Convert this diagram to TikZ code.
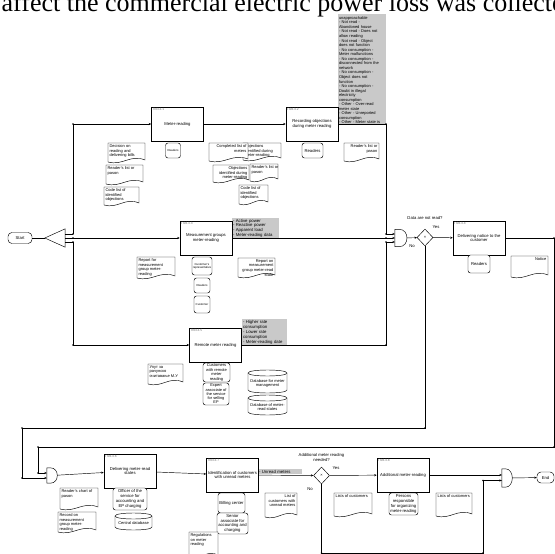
\documentclass[tikz,border=0pt]{standalone}
\usepackage{fontspec}
\setmainfont{Liberation Serif}
\setsansfont{Liberation Sans}
\usetikzlibrary{arrows.meta,calc,positioning,shapes.geometric}
\definecolor{notegray}{HTML}{C9C9C9}
\definecolor{codegray}{HTML}{6E6E6E}

\newcommand{\fnt}{\fontsize{4.2}{4.8}\selectfont\sffamily}
\newcommand{\fdoc}{\fontsize{4.0}{4.6}\selectfont\sffamily}
\newcommand{\fsm}{\fontsize{2.9}{3.4}\selectfont\sffamily}

% document sheet with a wavy lower edge: name, x1, y1, x2, y2, text
\newcommand{\docL}[6]{%
  \filldraw[docline] (#2,#3) -- (#4,#3) -- (#4,#5-3)
    .. controls ({#2+0.6*(#4-#2)},#5-9) and ({#2+0.4*(#4-#2)},#5+3) .. (#2,#5-1) -- cycle;
  \node[doctext, anchor=north west, align=left] (#1) at (#2+1,#3+1) {#6};}
\newcommand{\docR}[6]{%
  \filldraw[docline] (#2,#3) -- (#4,#3) -- (#4,#5-3)
    .. controls ({#2+0.6*(#4-#2)},#5-9) and ({#2+0.4*(#4-#2)},#5+3) .. (#2,#5-1) -- cycle;
  \node[doctext, anchor=north east, align=right] (#1) at (#4-1,#3+1) {#6};}
% data store
\newcommand{\dbase}[6]{%
  \filldraw[docline] (#2,#3+3) -- (#2,#5-3) .. controls (#2,#5+1) and (#4,#5+1) .. (#4,#5-3)
    -- (#4,#3+3) .. controls (#4,#3-1) and (#2,#3-1) .. (#2,#3+3) -- cycle;
  \draw[docline] (#2,#3+3) .. controls (#2,#3+7) and (#4,#3+7) .. (#4,#3+3);
  \node[doctext, align=center] (#1) at ({(#2+#4)/2},{(#3+#5)/2+2}) {#6};}
% AND connector
\newcommand{\gateshape}[1]{%
  \draw[wire, fill=white] (#1.south west) -- (#1.north west)
    -- ($(#1.north west)!0.35!(#1.north east)$)
    .. controls ([xshift=2.4pt]#1.north east) and ([xshift=2.4pt]#1.south east)
    .. ($(#1.south west)!0.35!(#1.south east)$) -- cycle;}

\begin{document}
\begin{tikzpicture}[x=1pt, y=-1pt,
    proc/.style={draw, line width=0.7pt, fill=white, minimum width=52pt,
                 minimum height=34pt, inner sep=1pt, align=center, font=\fnt},
    code/.style={anchor=north west, inner sep=1.6pt,
                 font=\fontsize{3.2}{3.6}\selectfont\sffamily, text=codegray},
    note/.style={fill=notegray, inner sep=0.8pt, align=left, anchor=south west},
    res/.style={draw, line width=0.45pt, rounded corners=2.5pt, fill=white,
                inner sep=0.3pt, align=center, font=\fnt},
    docline/.style={draw, line width=0.45pt, fill=white},
    doctext/.style={inner sep=0.4pt, font=\fdoc},
    term/.style={draw, line width=0.45pt, rounded corners=4pt, fill=white,
                 minimum height=11pt, inner sep=0.5pt, font=\fnt},
    gate/.style={minimum width=11pt, minimum height=16pt, inner sep=0pt},
    decide/.style={diamond, draw, line width=0.45pt, fill=white, minimum width=16pt,
                   minimum height=17pt, inner sep=0pt, font=\fontsize{4}{4}\selectfont\sffamily},
    lbl/.style={font=\fnt, inner sep=0.5pt, align=center},
    flow/.style={-{Stealth[length=2.4pt,width=2.2pt]}, line width=0.45pt},
    wire/.style={line width=0.45pt}
  ]
  \useasboundingbox (0,0) rectangle (555,554);
  \clip (0,0) rectangle (555,554);

  % attribute notes
  \fill[notegray] (338,14) rectangle (386,125);
  \node[note, text width=46pt, font=\fontsize{4.0}{4.55}\selectfont\sffamily] (n32) at (338,125)
    {unapproachable\\- Not read -\\Abandoned house\\- Not read - Does not\\allow reading\\
     - Not read - Object\\does not function\\- No consumption -\\Meter malfunctions\\
     - No consumption -\\disconnected from the\\network\\- No consumption -\\
     Object does not\\function\\- No consumption -\\Doubt in illegal\\electricity\\
     consumption\\- Other - Over-read\\meter state\\- Other - Unreported\\
     consumption\\- Other - Meter state is};
  \node[note, text width=45pt, font=\fontsize{4.3}{4.7}\selectfont\sffamily] (n33) at (232,238)
    {- Active power\\- Reactive power\\- Apparent load\\- Meter-reading data};
  \node[note, text width=43pt, font=\fontsize{4.3}{5}\selectfont\sffamily] (n35) at (242,345)
    {- Higher rate\\consumption\\- Lower rate\\consumption\\- Meter-reading date};
  \node[note, text width=42pt, font=\fontsize{4.3}{4.7}\selectfont\sffamily] (n37) at (258,474.3)
    {- Unread meters};

  % line of the page text above the figure
  \node[anchor=base west, inner sep=0pt, font=\fontsize{26}{28}\selectfont\rmfamily]
    (ttl) at (1.5,11.5) {affect the commercial electric power loss was collected};

  % functions
  \node[proc] (b31) at (177.5,124) {Meter-reading};
  \node[proc] (b32) at (312,124) {Recording objections\\during meter reading};
  \node[proc] (b33) at (206,238) {Measurement groups\\meter-reading};
  \node[proc] (b34) at (479,238) {Delivering notice to the\\customer};
  \node[proc] (b35) at (215.5,345) {Remote meter reading};
  \node[proc] (b36) at (130,471) {Delivering meter-read\\states};
  \node[proc] (b37) at (232.5,475) {Identification of customers\\with unread meters};
  \node[proc] (b38) at (403,475) {Additional meter-reading};
  \node[code] (c31) at (b31.north west) {П03.3.1};
  \node[code] (c32) at (b32.north west) {П03.3.2};
  \node[code] (c33) at (b33.north west) {П03.3.3};
  \node[code] (c34) at (b34.north west) {П03.3.4};
  \node[code] (c35) at (b35.north west) {П03.3.5};
  \node[code] (c36) at (b36.north west) {П03.3.6};
  \node[code] (c37) at (b37.north west) {П03.3.7};
  \node[code] (c38) at (b38.north west) {П03.3.8};

  % events, rules, connectors
  \node[term, minimum width=24pt] (start) at (20,238) {Start};
  \node[term, minimum width=17pt] (end) at (545.5,477.5) {End};
  \node[gate, minimum width=20pt, minimum height=18pt] (spl) at (55,238) {};
  \draw[wire, fill=white] (spl.west) -- (spl.north east) -- (spl.south east) -- cycle;
  \node[gate, minimum width=12pt, minimum height=17pt] (g1) at (401,238) {};
  \node[gate, minimum width=10pt, minimum height=15pt] (g2) at (52,475.5) {};
  \node[gate, minimum width=10pt, minimum height=18pt] (g3) at (507,478) {};
  \gateshape{g1}
  \gateshape{g2}
  \gateshape{g3}
  \node[decide] (d1) at (425,237.5) {×};
  \node[decide] (d2) at (321.5,475.5) {×};
  \node[lbl, above=9pt of d1] (q1) {Data are not read?};
  \node[lbl] (y1) at (436,227) {Yes};
  \node[lbl] (no1) at (412,246.5) {No};
  \node[lbl, above=5pt of d2] (q2) {Additional meter reading\\needed?};
  \node[lbl] (y2) at (336,468) {Yes};
  \node[lbl] (no2) at (310,489) {No};

  % resources of the functions
  \node[res, minimum width=15pt, minimum height=15pt, font=\fsm] (r31) at (173,150.5) {Readers};
  \docL{dDec}{108}{143}{145}{163}{Decision on\\reading and\\delivering bills}
  \docL{dRl1}{106}{165}{143}{185}{Reader's list or\\pason}
  \docL{dCl1}{104}{187}{139}{206}{Code list of\\identified\\objections}
  \docL{dOb1}{243}{143}{281}{161}{Objections\\identified during\\meter-reading}
  \docR{dCm}{209}{143}{248}{162}{Completed list of\\meters}
  \docL{dRl2}{250}{164}{278}{182}{Reader's list or\\pason}
  \docR{dOb2}{213}{165}{249}{183}{Objections\\identified during\\meter-reading}
  \docL{dCl2}{239}{185}{268}{205}{Code list of\\identified\\objections}
  \node[res, minimum width=21pt, minimum height=15pt] (r32) at (312.5,150.5) {Readers};
  \docR{dRl3}{344}{143}{379}{162}{Reader's list or\\pason}

  \docL{dRp1}{137}{257}{175}{279}{Report for\\measurement\\group meter-\\reading}
  \node[res, minimum width=20pt, minimum height=18pt, font=\fsm] (r33a) at (202,266) {Customer's\\representative};
  \node[res, minimum width=16pt, minimum height=15pt, font=\fsm] (r33b) at (202,285.5) {Readers};
  \node[res, minimum width=16pt, minimum height=17pt, font=\fsm] (r33c) at (202,304.5) {Customer};
  \docR{dRp2}{238}{258}{275}{278}{Report on\\measurement\\group meter-read\\state}

  \node[res, minimum width=22pt, minimum height=18pt] (r34) at (479,264) {Readers};
  \docR{dNot}{511}{256}{548}{278}{Notice}

  \docL{dCyr}{148}{364}{183}{385}{Упут за\\рачунско\\очитавање М.У}
  \node[res, minimum width=27pt, minimum height=19pt, font=\fontsize{4}{4.5}\selectfont\sffamily] (r35a) at (216.5,372.5) {Customers\\with remote\\meter\\reading};
  \node[res, minimum width=26pt, minimum height=22pt, font=\fontsize{3.9}{4.3}\selectfont\sffamily] (r35b) at (216,394) {Expert\\associate of\\the service\\for selling\\EP};
  \dbase{dbM}{248}{370}{287}{393}{Database for meter\\management}
  \dbase{dbS}{248}{395}{287}{415}{Database of meter-\\read states}

  \docL{dRc1}{60}{488}{98}{510}{Reader's chart of\\pason}
  \docL{dRc2}{58}{512}{96}{533}{Record on\\measurement\\group meter-\\reading}
  \node[res, minimum width=34pt, minimum height=22pt] (r36) at (130,499) {Officer of the\\service for\\accounting and\\EP charging};
  \dbase{dbC}{115}{513}{152}{530}{Central database}

  \node[res, minimum width=27pt, minimum height=20pt] (r37a) at (231.5,503) {Billing center};
  \node[res, minimum width=31pt, minimum height=21pt] (r37b) at (232.5,523.5) {Senior\\associate for\\accounting and\\charging};
  \docL{dReg}{189}{532}{218}{558}{Regulations\\on meter\\reading}
  \docR{dLcu}{265}{493}{297}{518}{List of\\customers with\\unread meters}

  \docL{dLs1}{334}{493}{372}{517}{Lists of customers}
  \node[res, minimum width=29pt, minimum height=22pt] (r38) at (403.5,504) {Persons\\responsible\\for organizing\\meter-reading};
  \docL{dLs2}{436}{493}{472}{517}{Lists of customers}

  % junction points
  \coordinate (ja) at (73,124);
  \coordinate (jb) at (73,234);
  \coordinate (jc) at (73,238);
  \coordinate (jd) at (73,242);
  \coordinate (je) at (73,345);
  \coordinate (ka) at (386,124);
  \coordinate (kb) at (386,234);
  \coordinate (kc) at (386,238);
  \coordinate (kd) at (386,242);
  \coordinate (ke) at (386,345);
  \coordinate (la) at (554,238);
  \coordinate (lb) at (554,447);
  \coordinate (lc) at (38,447);
  \coordinate (ld) at (38,473);
  \coordinate (ma) at (425,428);
  \coordinate (mb) at (22,428);
  \coordinate (mc) at (22,478);
  \coordinate (na) at (321.5,553);
  \coordinate (nb) at (483,553);
  \coordinate (nc) at (483,480.5);

  % control flow
  \draw[wire] (start) -- (spl.west);
  \draw[wire] (spl.east |- jb) -- (jb);
  \draw[wire] (spl.east |- jd) -- (jd);
  \draw[flow] (spl.east |- jc) -- (b33);
  \draw[flow] (jb) -- (ja) -- (b31);
  \draw[flow] (jd) -- (je) -- (b35);
  \draw[flow] (b31) -- (b32);
  \draw[wire] (b32) -- (ka) -- (kb);
  \draw[flow] (kb) -- (g1.west |- kb);
  \draw[flow] (b33) -- (g1.west |- kc);
  \draw[wire] (b35) -- (ke) -- (kd);
  \draw[flow] (kd) -- (g1.west |- kd);
  \draw[flow] (g1) -- (d1);
  \draw[flow] (d1) -- (b34);
  \draw[wire] (b34) -- (la) -- (lb) -- (lc) -- (ld);
  \draw[flow] (ld) -- (g2.west |- ld);
  \draw[wire] (d1) -- (ma) -- (mb) -- (mc);
  \draw[flow] (mc) -- (g2.west |- mc);
  \draw[flow] (g2) -- (b36);
  \draw[flow] (b36) -- (b37);
  \draw[flow] (b37) -- (d2);
  \draw[flow] (d2) -- (b38);
  \draw[flow] (b38.east) -- (g3.west |- b38.east);
  \draw[wire] (d2) -- (na) -- (nb) -- (nc);
  \draw[flow] (nc) -- (g3.west |- nc);
  \draw[flow] (g3) -- (end);
  \foreach \p in {ja,jb,jc,jd,je,ka,kb,kc,kd,ke,la,lb,lc,ld,ma,mb,mc,na,nb,nc}
    \fill (\p) circle (0.9pt);
\end{tikzpicture}
\end{document}
